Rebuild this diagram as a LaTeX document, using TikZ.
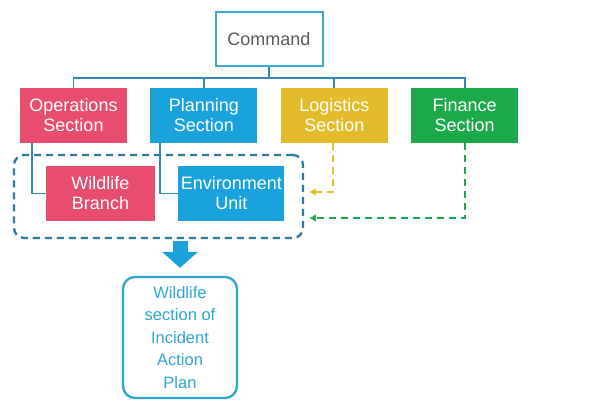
\documentclass[tikz,border=0pt]{standalone}
\usepackage{fontspec}
\setmainfont{Liberation Sans}
\usepackage{tikz}
\usetikzlibrary{positioning, arrows, arrows.meta}
\definecolor{opsred}{HTML}{E84D6E}
\definecolor{planblue}{HTML}{1AA2DD}
\definecolor{logyellow}{HTML}{E4BC2B}
\definecolor{fingreen}{HTML}{1CA94A}
\definecolor{cmdblue}{HTML}{3BA9CF}
\definecolor{linkblue}{HTML}{3189B0}
\definecolor{grpblue}{HTML}{2A7A9B}
\definecolor{iapblue}{HTML}{2BA6D3}

\begin{document}
\begin{tikzpicture}[x=1pt, y=-1pt,
		sec/.style={rectangle, fill=#1, text=white, minimum width=107pt, minimum height=55pt, inner xsep=1pt, align=center, font=\fontsize{18}{20}\selectfont},
		link/.style={draw=linkblue, line width=1.7pt},
		feed/.style={draw=#1, line width=2.3pt, dash pattern=on 7pt off 5pt, -{Latex[length=7pt, width=8pt]}}]
		\useasboundingbox (0,0) rectangle (590,400);
		
		\node[rectangle, draw=cmdblue, line width=2pt, minimum width=107pt, minimum height=54pt, text=black!65, font=\fontsize{18}{20}\selectfont] (cmd) at (269,39) {Command};
		
		\node[sec=opsred] (ops) at (73.5,115.5) {Operations\\Section};
		\node[sec=planblue, right = 23pt of ops] (plan) {Planning\\Section};
		\node[sec=logyellow, right = 23pt of plan] (log) {Logistics\\Section};
		\node[sec=fingreen, right = 23pt of log] (fin) {Finance\\Section};
		
		\coordinate (bus) at (269,78);
		\draw[link] (cmd) -- (bus);
		\draw[link] (ops.north) |- (bus) -| (fin.north);
		\draw[link] (plan.north) -- (plan.north |- bus);
		\draw[link] (log.north) -- (log.north |- bus);
		
		\node[draw=grpblue, line width=2.3pt, dash pattern=on 7pt off 5pt, rounded corners=10pt, minimum width=289pt, minimum height=83pt] (grp) at (158.5,196.5) {};
		
		\node[sec=opsred, minimum width=109pt] (wb) at (100.5,193.5) {Wildlife\\Branch};
		\node[sec=planblue, minimum width=106pt, right = 23pt of wb] (env) {Environment\\Unit};
		
		\draw[link] ([xshift=12pt]ops.south west) |- (wb.west);
		\draw[link] ([xshift=10pt]plan.south west) |- (env.west);
		
		\draw[feed=logyellow] ([xshift=-1.5pt]log.south) |- ([shift={(5,-4.5)}]grp.east);
		\draw[feed=fingreen] (fin.south) |- ([shift={(5,21.5)}]grp.east);
		
		\node[rectangle, draw=iapblue, line width=2.3pt, rounded corners=12pt, minimum width=114pt, minimum height=121pt, text=iapblue, align=center, font=\fontsize{16.5}{22.5}\selectfont] (iap) at (180,337.5) {Wildlife\\section of\\Incident\\Action\\Plan};
		
		\draw[draw=planblue, line width=15pt, -{Triangle[length=16pt, width=35pt]}] ([yshift=-2pt]iap.north |- grp.south) -- ([yshift=8pt]iap.north);
		
	\end{tikzpicture}
\end{document}
